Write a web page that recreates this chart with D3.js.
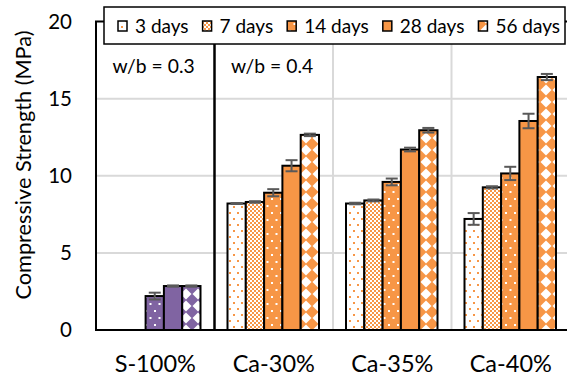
<!DOCTYPE html>
<html>
<head>
<meta charset="utf-8">
<script src="https://cdn.jsdelivr.net/npm/d3@7"></script>
<style>
  body { margin: 0; background: #fff; }
  svg { display: block; font-family: Lato, "Open Sans", sans-serif; }
</style>
</head>
<body>
<svg id="chart" width="567" height="381"></svg>
<script>
// Mixes and curing ages
const categories = ["S-100%", "Ca-30%", "Ca-35%", "Ca-40%"];
const ages = ["3 days", "7 days", "14 days", "28 days", "56 days"];

// Mean compressive strength (MPa) per age, one entry per mix (null = not tested)
const strength3d  = [null, 8.2, 8.2, 7.2];
const strength7d  = [null, 8.3, 8.4, 9.25];
const strength14d = [2.2, 8.9, 9.6, 10.15];
const strength28d = [2.85, 10.65, 11.7, 13.55];
const strength56d = [2.85, 12.65, 12.95, 16.4];

// Standard deviation (MPa)
const sd3d  = [null, 0.03, 0.05, 0.38];
const sd7d  = [null, 0.05, 0.06, 0.07];
const sd14d = [0.22, 0.23, 0.22, 0.43];
const sd28d = [0.04, 0.36, 0.12, 0.47];
const sd56d = [0.04, 0.08, 0.15, 0.2];

const yTicks = [0, 5, 10, 15, 20];
const ratioLabels = ["w/b = 0.3", "w/b = 0.4"];
const ratioGroups = ["S-100%", "Ca-30%"];

const strengthByAge = [strength3d, strength7d, strength14d, strength28d, strength56d];
const sdByAge = [sd3d, sd7d, sd14d, sd28d, sd56d];

const ORANGE = "#F79646";
const PURPLE = "#8064A2";
const patternKinds = ["dotsLight", "check", "dotsDark", "solid", "diamond"];

const svg = d3.select("#chart");
const plotLeft = 96, plotRight = 570, plotTop = 21.5, plotBottom = 330;

const x = d3.scaleBand().domain(categories).range([plotLeft, plotRight]).padding(0);
const xAge = d3.scaleBand().domain(ages).range([13, x.bandwidth() - 14]).padding(0);
const y = d3.scaleLinear().domain([0, 20]).range([plotBottom, plotTop]);

// ---- fill patterns ----
const defs = svg.append("defs");
function makePattern(id, color, kind) {
  if (kind === "solid") return;
  const sizes = { dotsLight: [8, 12], check: [4, 4], dotsDark: [9, 14], diamond: [12, 12] };
  const [w, h] = sizes[kind];
  const p = defs.append("pattern").attr("id", id)
    .attr("patternUnits", "userSpaceOnUse").attr("width", w).attr("height", h);
  if (kind === "dotsLight") {
    p.append("rect").attr("width", w).attr("height", h).attr("fill", "#fff");
    p.append("rect").attr("x", 1).attr("y", 2).attr("width", 2).attr("height", 2).attr("fill", color);
    p.append("rect").attr("x", 5).attr("y", 8).attr("width", 2).attr("height", 2).attr("fill", color);
  } else if (kind === "check") {
    p.append("rect").attr("width", w).attr("height", h).attr("fill", "#fff");
    p.append("rect").attr("x", 0).attr("y", 0).attr("width", 2).attr("height", 2).attr("fill", color);
    p.append("rect").attr("x", 2).attr("y", 2).attr("width", 2).attr("height", 2).attr("fill", color);
  } else if (kind === "dotsDark") {
    p.append("rect").attr("width", w).attr("height", h).attr("fill", color);
    p.append("rect").attr("x", 1).attr("y", 2).attr("width", 2).attr("height", 2).attr("fill", "#fff");
    p.append("rect").attr("x", 5.5).attr("y", 9).attr("width", 2).attr("height", 2).attr("fill", "#fff");
  } else if (kind === "diamond") {
    p.append("rect").attr("width", w).attr("height", h).attr("fill", color);
    p.append("polygon").attr("points", "6,0.5 11.5,6 6,11.5 0.5,6").attr("fill", "#fff");
  }
}
[["o", ORANGE], ["p", PURPLE]].forEach(([k, c]) =>
  patternKinds.forEach(kind => makePattern(`${k}-${kind}`, c, kind)));
function fillFor(catIndex, ageIndex) {
  const key = catIndex === 0 ? "p" : "o";
  const color = catIndex === 0 ? PURPLE : ORANGE;
  const kind = patternKinds[ageIndex];
  return kind === "solid" ? color : `url(#${key}-${kind})`;
}

// ---- gridlines ----
svg.append("g")
  .selectAll("line").data(yTicks.filter(t => t > 0 && t < 20)).join("line")
  .attr("x1", plotLeft).attr("x2", plotRight)
  .attr("y1", d => y(d)).attr("y2", d => y(d))
  .attr("stroke", "#D9D9D9").attr("stroke-width", 2);
svg.append("g")
  .selectAll("line").data(categories.slice(2)).join("line")
  .attr("x1", d => x(d)).attr("x2", d => x(d))
  .attr("y1", plotTop).attr("y2", plotBottom)
  .attr("stroke", "#D9D9D9").attr("stroke-width", 2);

// ---- bars ----
const barData = [];
categories.forEach((c, ci) => ages.forEach((a, ai) => {
  const v = strengthByAge[ai][ci];
  if (v != null) barData.push({ c, ci, a, ai, v, sd: sdByAge[ai][ci] });
}));

svg.append("g").selectAll("rect").data(barData).join("rect")
  .attr("x", d => x(d.c) + xAge(d.a))
  .attr("y", d => y(d.v))
  .attr("width", xAge.bandwidth())
  .attr("height", d => y(0) - y(d.v))
  .attr("fill", d => fillFor(d.ci, d.ai))
  .attr("stroke", "#000").attr("stroke-width", 2);

// ---- error bars ----
const eb = svg.append("g").attr("stroke", "#595959").attr("stroke-width", 2)
  .selectAll("g").data(barData).join("g")
  .attr("transform", d => `translate(${x(d.c) + xAge(d.a) + xAge.bandwidth() / 2},0)`);
eb.append("line").attr("y1", d => y(d.v + d.sd)).attr("y2", d => y(d.v - d.sd));
eb.append("line").attr("x1", -6).attr("x2", 6).attr("y1", d => y(d.v + d.sd)).attr("y2", d => y(d.v + d.sd));
eb.append("line").attr("x1", -6).attr("x2", 6).attr("y1", d => y(d.v - d.sd)).attr("y2", d => y(d.v - d.sd));

// ---- frame, separator ----
svg.append("rect").attr("x", plotLeft).attr("y", plotTop)
  .attr("width", plotRight - plotLeft).attr("height", plotBottom - plotTop)
  .attr("fill", "none").attr("stroke", "#000").attr("stroke-width", 2);
svg.append("line")
  .attr("x1", x(categories[1])).attr("x2", x(categories[1]))
  .attr("y1", plotTop).attr("y2", plotBottom)
  .attr("stroke", "#000").attr("stroke-width", 2.5);

// ---- axes ----
const yAxis = svg.append("g").attr("transform", `translate(${plotLeft},0)`)
  .call(d3.axisLeft(y).tickValues(yTicks).tickSize(0).tickPadding(24));
yAxis.select(".domain").remove();
yAxis.selectAll("text").attr("font-size", 20.5).attr("font-family", "Lato").attr("fill", "#000");

const xAxis = svg.append("g").attr("transform", `translate(0,${plotBottom})`)
  .call(d3.axisBottom(x).tickSize(0).tickPadding(0));
xAxis.select(".domain").remove();
xAxis.selectAll("text").attr("font-size", 23.5).attr("font-family", "Lato").attr("fill", "#000")
  .attr("y", 42).attr("dy", 0);

svg.append("text")
  .attr("transform", `translate(31,165) rotate(-90)`)
  .attr("text-anchor", "middle")
  .attr("font-size", 21.7).attr("fill", "#000")
  .text("Compressive Strength (MPa)");

// ---- w/b annotations ----
svg.append("g").selectAll("text").data(ratioLabels).join("text")
  .attr("x", (d, i) => x(ratioGroups[i]) + 16.5)
  .attr("y", 73)
  .attr("font-size", 19.3).attr("fill", "#000")
  .text(d => d);

// ---- legend ----
const legend = svg.append("g");
legend.append("rect").attr("x", 104).attr("y", 7).attr("width", 461).attr("height", 37)
  .attr("fill", "#fff").attr("stroke", "#000").attr("stroke-width", 1.5);
let lx = 118;
ages.forEach((a, ai) => {
  legend.append("rect").attr("x", lx).attr("y", 21).attr("width", 9).attr("height", 10)
    .attr("fill", fillFor(1, ai)).attr("stroke", "#000").attr("stroke-width", 1.5);
  const t = legend.append("text").attr("x", lx + 17).attr("y", 32.5)
    .attr("font-size", 19).attr("fill", "#000").text(a);
  lx += 17 + t.node().getComputedTextLength() + 14;
});
</script>
</body>
</html>
